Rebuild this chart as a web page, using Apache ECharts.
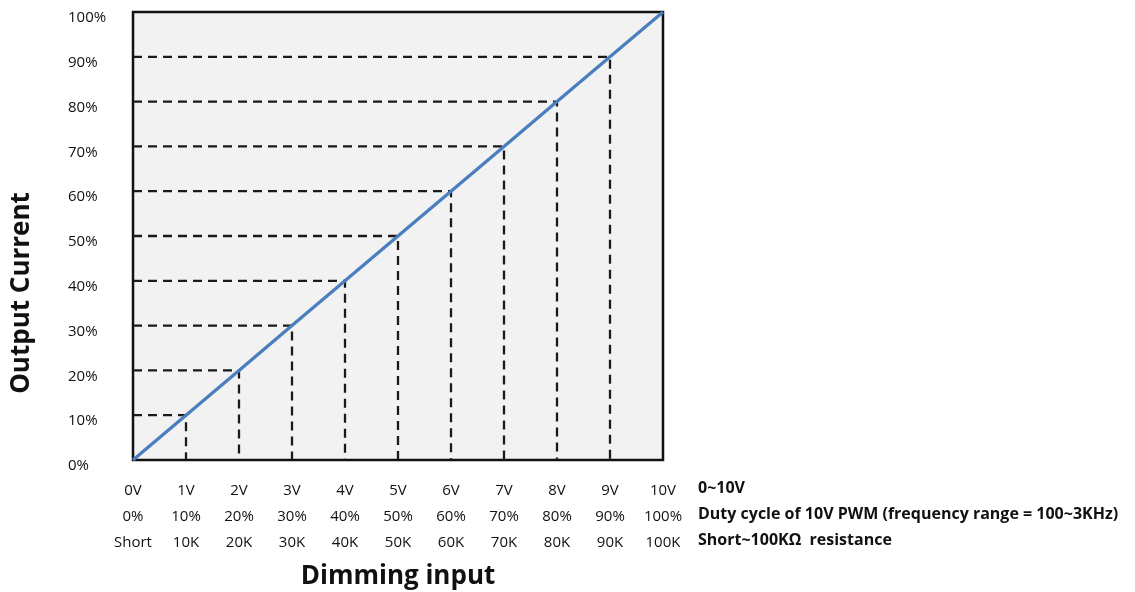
<!DOCTYPE html>
<html><head><meta charset="utf-8">
<script src="https://cdn.jsdelivr.net/npm/echarts@6/dist/echarts.min.js"></script>
<style>html,body{margin:0;padding:0;background:#fff}#c{width:1135px;height:592px}</style>
</head><body><div id="c"></div>
<script>
const voltage = [0,1,2,3,4,5,6,7,8,9,10];
const output = [0,10,20,30,40,50,60,70,80,90,100];
const voltLabels = ['0V','1V','2V','3V','4V','5V','6V','7V','8V','9V','10V'];
const dutyLabels = ['0%','10%','20%','30%','40%','50%','60%','70%','80%','90%','100%'];
const resLabels = ['Short','10K','20K','30K','40K','50K','60K','70K','80K','90K','100K'];
const rowTitles = ['0~10V','Duty cycle of 10V PWM (frequency range = 100~3KHz)','Short~100KΩ  resistance'];
const yTicks = ['0%','10%','20%','30%','40%','50%','60%','70%','80%','90%','100%'];

const FONT = '"Open Sans", "Noto Sans", sans-serif';
const chart = echarts.init(document.getElementById('c'));

const guideSeries = [];
for (let i = 1; i < voltage.length - 1; i++) {
  guideSeries.push({
    type: 'line', silent: true, symbol: 'none', z: 2,
    data: [[0, output[i]], [voltage[i], output[i]], [voltage[i], 0]],
    lineStyle: { color: '#1a1a1a', width: 2.3, type: [9, 6] }
  });
}

chart.setOption({
  animation: false,
  grid: { left: 133, right: 472, top: 12, bottom: 132, show: true, backgroundColor: '#f2f2f2', borderColor: '#111', borderWidth: 2.5 },
  xAxis: {
    type: 'value', min: 0, max: 10, interval: 1,
    axisLine: { show: false }, axisTick: { show: false }, splitLine: { show: false },
    axisLabel: {
      margin: 18, fontFamily: FONT, fontSize: 15, color: '#111', lineHeight: 26,
      formatter: v => voltLabels[v] + '\n' + dutyLabels[v] + '\n' + resLabels[v]
    }
  },
  yAxis: {
    type: 'value', min: 0, max: 100, interval: 10,
    axisLine: { show: false }, axisTick: { show: false }, splitLine: { show: false },
    axisLabel: { margin: 65, align: 'left', verticalAlign: 'top', lineHeight: 12, fontFamily: FONT, fontSize: 15, color: '#111', formatter: v => yTicks[v / 10] }
  },
  series: guideSeries.concat([{
    type: 'line', symbol: 'none', z: 5,
    data: voltage.map((v, i) => [v, output[i]]),
    lineStyle: { color: '#4a7ebf', width: 3.3 }
  }]),
  graphic: [
    { type: 'text', left: 698, top: 480, style: { text: rowTitles[0], font: 'bold 16px ' + FONT, fill: '#111' } },
    { type: 'text', left: 698, top: 506, style: { text: rowTitles[1], font: 'bold 16px ' + FONT, fill: '#111' } },
    { type: 'text', left: 698, top: 532, style: { text: rowTitles[2], font: 'bold 16px ' + FONT, fill: '#111' } },
    { type: 'text', x: 398, y: 577, style: { text: 'Dimming input', font: 'bold 26px ' + FONT, fill: '#111', align: 'center', verticalAlign: 'middle' } },
    { type: 'text', x: 22, y: 293, rotation: Math.PI / 2, style: { text: 'Output Current', font: 'bold 26px ' + FONT, fill: '#111', align: 'center', verticalAlign: 'middle' } }
  ]
});
</script></body></html>
